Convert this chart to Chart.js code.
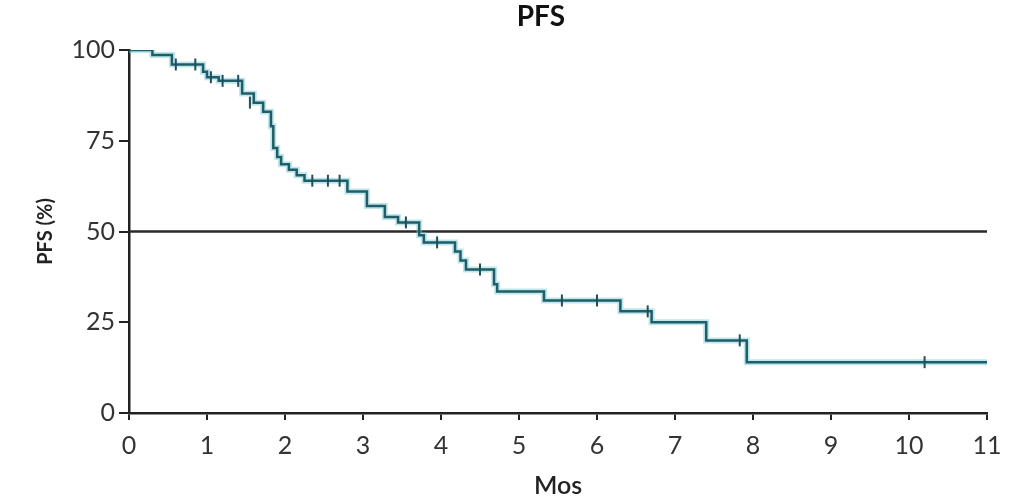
<!DOCTYPE html>
<html>
<head>
<meta charset="utf-8">
<script src="https://cdn.jsdelivr.net/npm/chart.js@4/dist/chart.umd.min.js"></script>
<style>
    html, body { margin: 0; padding: 0; background: #fff; }
    #wrap { width: 1009px; height: 497px; }
</style>
</head>
<body>
<div id="wrap"><canvas id="pfsChart"></canvas></div>
<script>
// Kaplan-Meier step points: time (months) and PFS (%) after each drop
const eventMonths = [0, 0.3, 0.55, 0.95, 1.0, 1.15, 1.45, 1.6, 1.72, 1.82, 1.85, 1.9, 1.95, 2.05, 2.15, 2.25,
                     2.8, 3.05, 3.28, 3.45, 3.72, 3.78, 4.18, 4.25, 4.32, 4.68, 4.72, 5.32, 6.3, 6.7, 7.4, 7.92, 11];
const pfsValues = [100, 98.6, 96, 94, 92.5, 91.5, 88, 85.5, 83, 79, 73, 70.5, 68.5, 67, 65.5, 64,
                   61, 57, 54, 52.5, 49, 47, 44.5, 42, 39.5, 35.5, 33.5, 31, 28, 25, 20, 14, 14];

// censored observations
const censorMonths = [0.6, 0.85, 1.05, 1.2, 1.4, 1.55, 2.35, 2.55, 2.7, 3.55, 3.95, 4.5, 5.55, 6.0, 6.65, 7.83, 10.2];
const censorValues = [96, 96, 92.5, 91.5, 91.5, 85.5, 64, 64, 64, 52.5, 47, 39.5, 31, 31, 28, 20, 14];

const xTicks = [0, 1, 2, 3, 4, 5, 6, 7, 8, 9, 10, 11];
const yTicks = [0, 25, 50, 75, 100];
const medianLine = 50;
const chartTitle = 'PFS';

const curvePoints = eventMonths.map((m, i) => ({ x: m, y: pfsValues[i] }));
const censorPoints = censorMonths.map((m, i) => ({ x: m, y: censorValues[i] }));

const tickFont = { family: 'Lato', size: 25 };

// title sits a little left of the plot centre in the original
const titlePlugin = {
    id: 'pfsTitle',
    afterDraw(chart) {
        const ctx = chart.ctx;
        const xs = chart.scales.x;
        ctx.save();
        ctx.font = 'bold 28px Lato';
        ctx.fillStyle = '#111';
        ctx.textAlign = 'center';
        ctx.textBaseline = 'middle';
        ctx.fillText(chartTitle, xs.getPixelForValue(5.28), 17);
        ctx.restore();
    }
};

new Chart(document.getElementById('pfsChart'), {
    type: 'line',
    data: {
        datasets: [
            {
                // reference line at 50%
                data: [{ x: xTicks[0], y: medianLine }, { x: xTicks[xTicks.length - 1], y: medianLine }],
                borderColor: '#2a2a2a',
                borderWidth: 2.5,
                pointRadius: 0,
                order: 3
            },
            {
                // soft halo under the curve
                data: curvePoints,
                stepped: 'before',
                borderColor: 'rgba(110, 200, 210, 0.45)',
                borderWidth: 6,
                pointRadius: 0,
                order: 2
            },
            {
                data: curvePoints,
                stepped: 'before',
                borderColor: '#1f5d68',
                borderWidth: 2.5,
                pointRadius: 0,
                order: 1
            },
            {
                type: 'scatter',
                data: censorPoints,
                pointStyle: 'line',
                rotation: 90,
                radius: 6,
                borderColor: '#1f4f5a',
                borderWidth: 2,
                backgroundColor: '#1f4f5a',
                order: 0
            }
        ]
    },
    options: {
        responsive: true,
        maintainAspectRatio: false,
        animation: false,
        layout: { padding: { left: 0, right: 22, top: 50, bottom: 0 } },
        scales: {
            x: {
                type: 'linear',
                min: 0,
                max: 11,
                afterBuildTicks: (scale) => { scale.ticks = xTicks.map(v => ({ value: v })); },
                afterFit: (scale) => { scale.height = 84; scale.paddingRight = 0; },
                grid: { display: true, drawOnChartArea: false, drawTicks: true, tickLength: 7, color: '#222', lineWidth: 2 },
                border: { color: '#222', width: 2.5 },
                ticks: { color: '#333', font: tickFont, padding: 11, maxRotation: 0 },
                title: { display: true, text: 'Mos', color: '#222', font: { family: 'Lato', size: 25, weight: '600' }, padding: { top: 2, bottom: -4 } }
            },
            y: {
                min: 0,
                max: 100,
                afterBuildTicks: (scale) => { scale.ticks = yTicks.map(v => ({ value: v })); },
                afterFit: (scale) => { scale.width = 129; },
                grid: { display: true, drawOnChartArea: false, drawTicks: true, tickLength: 10, color: '#222', lineWidth: 2 },
                border: { color: '#222', width: 2.5 },
                ticks: { color: '#333', font: tickFont, padding: 4 },
                title: { display: true, text: 'PFS (%)', color: '#222', font: { family: 'Lato', size: 20, weight: 'bold' }, padding: { top: 34, bottom: 10 } }
            }
        },
        plugins: {
            legend: { display: false },
            tooltip: { enabled: false },
            title: { display: false }
        }
    },
    plugins: [titlePlugin]
});
</script>
</body>
</html>
